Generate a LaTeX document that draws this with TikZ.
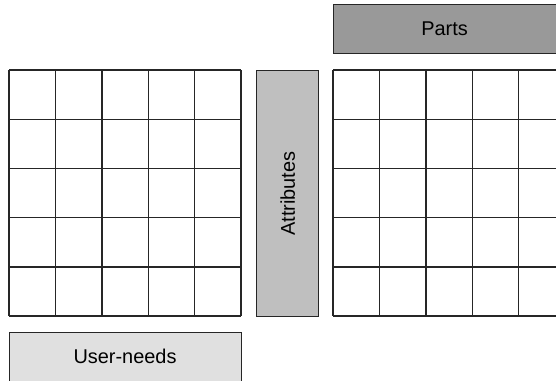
\documentclass[tikz,border=0pt]{standalone}
\usepackage{fontspec}
\setmainfont{Liberation Sans}
\begin{document}
\begin{tikzpicture}[x=1bp,y=-1bp,
  box/.style={draw=black!85,line width=1.4bp,inner sep=0pt,font=\fontsize{20}{24}\selectfont},
  gridline/.style={draw=black!85,line width=1.4bp}]
\useasboundingbox (0,0) rectangle (556,380);
\clip (0,0) rectangle (556,380);
% left matrix: 5 x 5 cells
\foreach \i in {0,...,5}{
  \draw[gridline] ({9+46.4*\i},70) -- ({9+46.4*\i},316);
  \draw[gridline] (9,{70+49.2*\i}) -- (241,{70+49.2*\i});
}
% right matrix, running off the right edge
\foreach \i in {0,...,5}{
  \draw[gridline] ({333+46.4*\i},70) -- ({333+46.4*\i},316);
  \draw[gridline] (333,{70+49.2*\i}) -- (570,{70+49.2*\i});
}
% label bars
\node[box,fill=black!40,minimum width=240bp,minimum height=49bp,anchor=north west] (parts) at (333,4) {};
\node at (444.5,28.5) (partstext) {\fontsize{20}{24}\selectfont Parts};
\node[box,fill=black!25,minimum width=62bp,minimum height=246bp,anchor=north west] (attr) at (256,70) {};
\node[rotate=90] at (attr.center) (attrtext) {\fontsize{20}{24}\selectfont Attributes};
\node[box,fill=black!12,minimum width=232bp,minimum height=52bp,anchor=north west] (needs) at (9,332) {};
\node at (125,356) (needstext) {\fontsize{20}{24}\selectfont User-needs};
\end{tikzpicture}
\end{document}
